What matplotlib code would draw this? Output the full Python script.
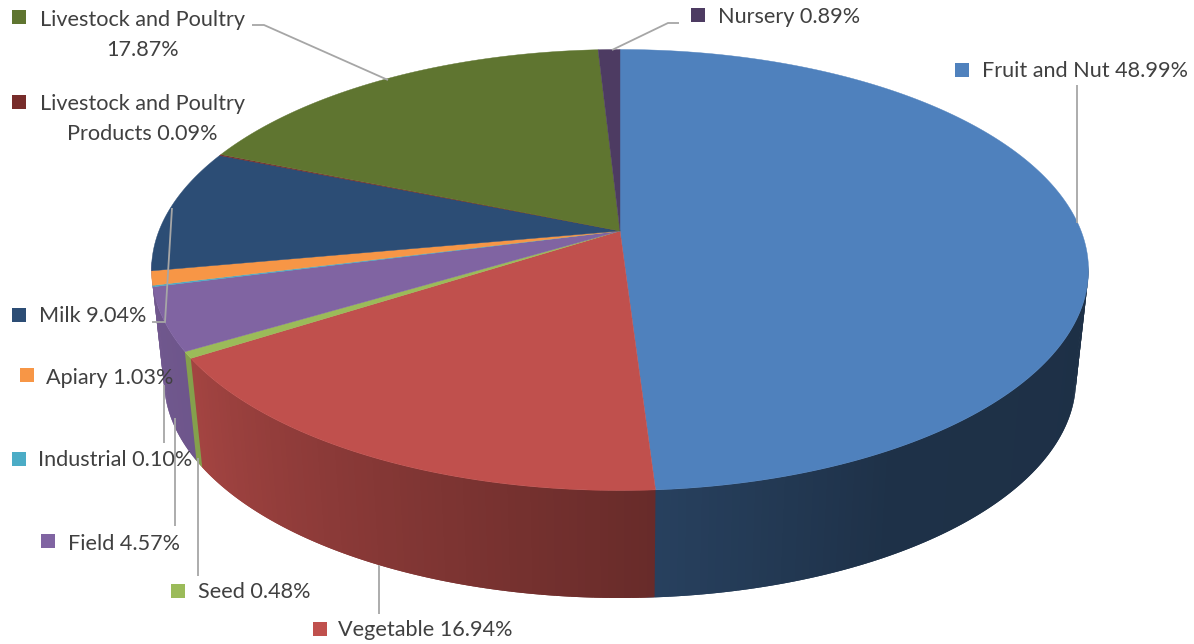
import matplotlib
matplotlib.use("Agg")
import matplotlib.pyplot as plt
from matplotlib.patches import Polygon, Rectangle
import numpy as np

names = ["Fruit and Nut", "Vegetable", "Seed", "Field", "Industrial", "Apiary", "Milk",
         "Livestock and Poultry", "Livestock and Poultry", "Nursery"]
shares = [48.99, 16.94, 0.48, 4.57, 0.10, 1.03, 9.04, 0.09, 17.87, 0.89]
colors = ["#4F81BD", "#C0504D", "#9BBB59", "#8064A2", "#4BACC6", "#F79646", "#2C4D75",
          "#772C2A", "#5F7530", "#4D3B62"]

# label text, anchor x, y, horizontal align, key left, key top
labels = [
    ("Fruit and Nut 48.99%", 982, 71, "left", 955, 63),
    ("Vegetable 16.94%", 338, 630, "left", 313, 622),
    ("Seed 0.48%", 198, 592, "left", 171, 584),
    ("Field 4.57%", 68, 544, "left", 41, 534),
    ("Industrial 0.10%", 38, 460, "left", 12, 452),
    ("Apiary 1.03%", 46, 378, "left", 20, 368),
    ("Milk 9.04%", 39, 316, "left", 12, 308),
    ("Livestock and Poultry\nProducts 0.09%", 142, 119, "center", 12, 95),
    ("Livestock and Poultry\n17.87%", 142, 35, "center", 12, 10),
    ("Nursery 0.89%", 718, 17, "left", 691, 8),
]
leaders = [
    ([1077, 1077], [85, 223]),
    ([379, 379], [565, 614]),
    ([198, 198], [458, 576]),
    ([175, 175], [418, 526]),
    ([164, 164], [385, 443]),
    ([172, 165, 152], [208, 322, 322]),
    ([388, 264, 252], [80, 25, 25]),
    ([612, 668, 679], [50, 23, 23]),
]

# pie seen in perspective: rim ellipses, apex shifted towards the back
cx, top_cy, top_a, top_b = 620, 270, 468.5, 220.5
low_cy, low_a, low_b = 380, 456, 218
k = 0.177


def rim(theta, cy, a, b):
    d = 1 + k * np.cos(theta)
    u = np.sqrt(1 - k * k) * np.sin(theta) / d
    v = (np.cos(theta) + k) / d
    return cx + a * u, cy - b * v


def shade(color, f):
    return tuple(c * f for c in matplotlib.colors.to_rgb(color))


fig = plt.figure(figsize=(11.94, 6.44), dpi=100)
ax = fig.add_axes([0, 0, 1, 1])
ax.set_xlim(0, 1194)
ax.set_ylim(644, 0)
ax.axis("off")

edges = np.radians(np.concatenate([[0], np.cumsum(shares)]) * 3.6)
side_start, side_end = np.radians(99), np.radians(262)
step = np.radians(0.8)

# side wall first, the top goes over it. Only the first four slices show here
for i in range(4):
    t0 = max(edges[i], side_start)
    t1 = side_end if i == 3 else edges[i + 1]
    n = max(2, int((t1 - t0) / step))
    ts = np.linspace(t0, t1, n + 1)
    for a, b in zip(ts[:-1], ts[1:]):
        m = np.degrees((a + b) / 2)
        if i == 0:
            f = np.interp(m, [100, 150, 176.4], [0.37, 0.38, 0.5])
        else:
            f = np.interp(m, [176.4, 239, 260], [0.54, 0.86, 0.88])
        # each strip runs a bit into the next one so no seams show
        th = np.array([a, b + step])
        if i == 3:
            th[1] = min(th[1], t1)
        x1, y1 = rim(th, top_cy, top_a, top_b)
        x2, y2 = rim(th[::-1], low_cy, low_a, low_b)
        ax.add_patch(Polygon(np.column_stack([np.r_[x1, x2], np.r_[y1, y2]]),
                             facecolor=shade(colors[i], f), edgecolor="none", zorder=1 + i))

apex_y = top_cy - top_b * k
for i in range(len(shares)):
    n = max(3, int((edges[i + 1] - edges[i]) / np.radians(0.5)))
    ts = np.linspace(edges[i], edges[i + 1], n)
    x, y = rim(ts, top_cy, top_a, top_b)
    ax.add_patch(Polygon(np.column_stack([np.r_[cx, x], np.r_[apex_y, y]]),
                         facecolor=colors[i], edgecolor=colors[i], lw=0.3, zorder=6))

for xs, ys in leaders:
    ax.plot(xs, ys, color="#A6A6A6", lw=1.3, solid_capstyle="butt", solid_joinstyle="miter", zorder=7)

for i, (txt, tx, ty, ha, kx, ky) in enumerate(labels):
    ax.add_patch(Rectangle((kx, ky), 14, 14, facecolor=colors[i], edgecolor="none", zorder=8))
    ax.text(tx, ty, txt, ha=ha, va="center", multialignment="center", color="#404040",
            family="Lato", fontsize=15.6, linespacing=1.6, zorder=9)

fig.savefig("out.png", dpi=100, facecolor="white")
